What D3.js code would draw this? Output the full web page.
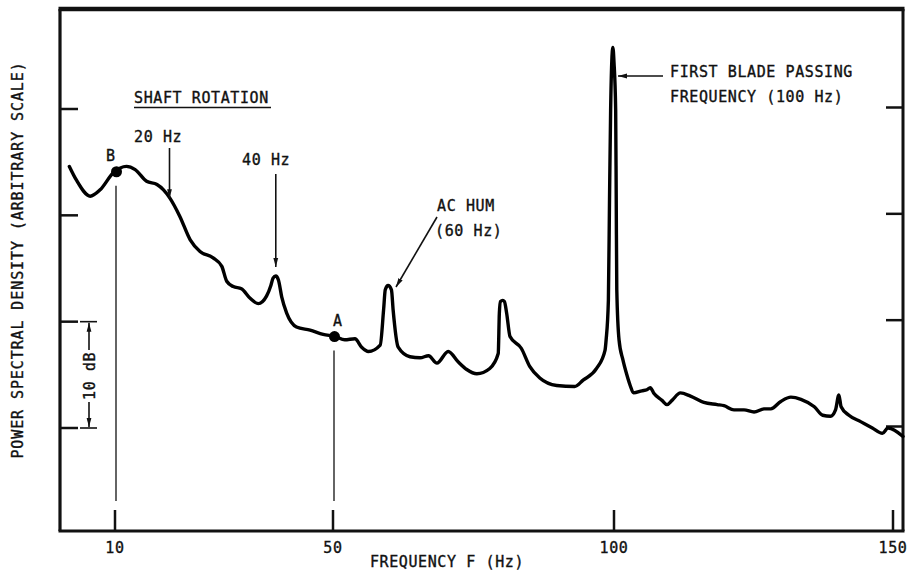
<!DOCTYPE html>
<html><head><meta charset="utf-8">
<script src="https://cdn.jsdelivr.net/npm/d3@7"></script>
<style>
html,body{margin:0;padding:0;background:#fff;}
svg{display:block;}
text{font-family:"DejaVu Sans Mono",monospace;font-size:15px;fill:#111;stroke:#111;stroke-width:0.35px;letter-spacing:0.6px;}
</style>
</head><body>
<svg id="c" width="910" height="572"></svg>
<script>
// ---- data ----
const freqHz = [1.7,3.0,5.5,7.3,9.7,12.1,13.7,15.8,17.7,18.9,20.1,21.9,23.8,25.6,28.0,29.6,30.5,31.7,33.2,34.8,36.3,37.8,38.6,39.0,39.5,40.0,40.6,41.5,43.3,45.8,48.2,50.4,52.1,53.9,55.1,56.3,58.4,59.0,59.3,59.8,60.4,60.7,61.6,63.7,65.5,67.0,68.5,70.5,72.3,73.8,75.6,77.9,79.4,79.6,79.8,80.2,80.5,80.9,81.5,83.5,85.0,86.8,89.8,93.0,94.5,96.9,98.4,98.6,99.0,99.2,99.4,99.6,99.8,100.0,100.3,100.4,100.5,100.9,101.6,102.3,102.9,103.5,105.0,105.9,106.5,107.1,108.6,109.5,110.4,111.9,113.7,116.1,118.5,119.7,121.5,123.3,125.1,126.9,128.1,129.9,131.7,133.5,135.9,137.4,138.8,139.7,140.3,140.7,142.1,144.2,146.3,148.1,149.1,151.8];
const psdDb = [34.6,33.3,31.8,32.4,34.0,34.6,34.3,33.2,32.9,32.4,31.6,29.9,27.7,26.6,26.0,25.2,23.8,23.3,23.1,22.2,21.7,22.4,23.4,24.1,24.3,23.9,22.3,20.8,19.5,19.2,18.8,18.6,18.3,18.4,17.6,17.2,17.8,21.1,23.0,23.4,23.0,21.1,17.6,16.7,16.6,16.8,16.1,17.2,16.2,15.5,15.1,15.6,17.0,20.8,21.9,22.0,21.9,20.8,18.6,17.5,15.8,14.7,14.0,13.9,14.5,15.6,17.3,18.3,22.0,31.4,39.9,44.4,45.8,44.4,39.9,31.4,23.0,18.3,16.4,15.0,14.0,13.3,13.5,13.6,13.8,13.3,12.6,12.2,12.6,13.3,13.0,12.4,12.2,12.1,11.7,11.7,11.5,11.8,11.8,12.5,12.9,12.7,12.0,11.2,11.1,11.7,13.1,12.0,11.2,10.6,10.0,9.5,10.0,9.2];
const xTicks = [10,50,100,150];
const xTickLabels = ["10","50","100","150"];
const yTicks = [10,20,30,40];
const pointLabels = ["B","A"];
const pointHz = [10,50];
const pointDb = [34.1,18.6];

// ---- layout ----
const frame = {left:60, top:9, right:903, bottom:531};
const svg = d3.select("#c");
const x = d3.scaleLinear().domain([0,10,50,100,150,151.8]).range([60,115,333,614,893,903]);
const y = d3.scaleLinear().domain([10,40]).range([428,109]);

// arrow marker
const defs = svg.append("defs");
defs.append("marker").attr("id","ah").attr("markerUnits","userSpaceOnUse")
  .attr("markerWidth",10).attr("markerHeight",6).attr("refX",9).attr("refY",3)
  .attr("orient","auto")
  .append("path").attr("d","M0,0.6 L9,3 L0,5.4 Z").attr("fill","#111");

const ink = "#111";
// frame
const g = svg.append("g");
g.append("line").attr("x1",frame.left-1.5).attr("x2",frame.right+1.5).attr("y1",frame.top).attr("y2",frame.top).attr("stroke",ink).attr("stroke-width",4.5);
g.append("line").attr("x1",frame.left-1.5).attr("x2",frame.right+1.5).attr("y1",frame.bottom).attr("y2",frame.bottom).attr("stroke",ink).attr("stroke-width",3.2);
g.append("line").attr("x1",frame.left).attr("x2",frame.left).attr("y1",frame.top).attr("y2",frame.bottom).attr("stroke",ink).attr("stroke-width",3.2);
g.append("line").attr("x1",frame.right).attr("x2",frame.right).attr("y1",frame.top).attr("y2",frame.bottom).attr("stroke",ink).attr("stroke-width",3);

// y ticks (inward, both sides, unlabeled)
g.selectAll(".lt").data(yTicks).join("line")
  .attr("x1",frame.left).attr("x2",frame.left+18)
  .attr("y1",d=>y(d)).attr("y2",d=>y(d)).attr("stroke",ink).attr("stroke-width",2.5);
g.selectAll(".rt").data(yTicks).join("line")
  .attr("x1",frame.right-17).attr("x2",frame.right)
  .attr("y1",d=>y(d)-1.5).attr("y2",d=>y(d)-1.5).attr("stroke",ink).attr("stroke-width",2.5);

// x ticks (inward) and labels
g.selectAll(".bt").data(xTicks.filter(d=>x(d)<frame.right-5)).join("line")
  .attr("x1",d=>x(d)).attr("x2",d=>x(d))
  .attr("y1",frame.bottom).attr("y2",frame.bottom-21).attr("stroke",ink).attr("stroke-width",2.5);
g.selectAll(".bl").data(xTicks).join("text")
  .attr("x",d=>x(d)).attr("y",553).attr("text-anchor","middle")
  .text((d,i)=>xTickLabels[i]);

// axis titles
svg.append("text").attr("x",447).attr("y",567).attr("text-anchor","middle").text("FREQUENCY F (Hz)");
svg.append("text").attr("transform","translate(23,260) rotate(-90)").attr("text-anchor","middle")
  .style("letter-spacing","0.9px").text("POWER SPECTRAL DENSITY (ARBITRARY SCALE)");

// drop lines from labelled points
const pts = pointHz.map((f,i)=>({f, db:pointDb[i], label:pointLabels[i]}));
g.selectAll(".dl").data(pts).join("line")
  .attr("x1",d=>x(d.f)+1).attr("x2",d=>x(d.f)+1)
  .attr("y1",d=>y(d.db)+14).attr("y2",frame.bottom-30)
  .attr("stroke",ink).attr("stroke-width",1.3);

// spectrum curve
const line = d3.line().x((d,i)=>x(freqHz[i])).y((d,i)=>y(psdDb[i])).curve(d3.curveMonotoneX);
svg.append("path").attr("d",line(freqHz)).attr("fill","none").attr("stroke","#000")
  .attr("stroke-width",3.4).attr("stroke-linejoin","round").attr("stroke-linecap","round");

// points
svg.selectAll(".pt").data(pts).join("circle")
  .attr("cx",d=>x(d.f)+1.5).attr("cy",d=>y(d.db)).attr("r",5.5).attr("fill","#000");
svg.selectAll(".ptl").data(pts).join("text")
  .attr("x",(d,i)=>x(d.f)+(i===0?-9:0)).attr("y",d=>y(d.db)-11).text(d=>d.label);

// annotations
function arrow(x1,y1,x2,y2){
  svg.append("line").attr("x1",x1).attr("y1",y1).attr("x2",x2).attr("y2",y2)
    .attr("stroke",ink).attr("stroke-width",1.6).attr("marker-end","url(#ah)");
}
svg.append("text").attr("x",134).attr("y",103).text("SHAFT ROTATION");
svg.append("line").attr("x1",134).attr("x2",271).attr("y1",107.5).attr("y2",107.5).attr("stroke",ink).attr("stroke-width",1.6);
svg.append("text").attr("x",134).attr("y",142).text("20 Hz");
arrow(x(20),148,x(20),y(31.6));
svg.append("text").attr("x",242).attr("y",165).text("40 Hz");
arrow(x(39.5),174,x(39.5),267);
svg.append("text").attr("x",437).attr("y",211).text("AC HUM");
svg.append("text").attr("x",435).attr("y",236).text("(60 Hz)");
arrow(437,217,396,287);
svg.append("text").attr("x",670).attr("y",77).text("FIRST BLADE PASSING");
svg.append("text").attr("x",670).attr("y",102).text("FREQUENCY (100 Hz)");
arrow(663,76,618,76);

// 10 dB scale bar
const bx = 89;
svg.append("line").attr("x1",80).attr("x2",97).attr("y1",y(20)).attr("y2",y(20)).attr("stroke",ink).attr("stroke-width",1.6);
svg.append("line").attr("x1",80).attr("x2",97).attr("y1",y(10)).attr("y2",y(10)).attr("stroke",ink).attr("stroke-width",1.6);
arrow(bx,350,bx,y(20)+1);
arrow(bx,402,bx,y(10)-1);
svg.append("text").attr("transform",`translate(95,${(y(10)+y(20))/2+1}) rotate(-90)`).attr("text-anchor","middle").text("10 dB");
</script>
</body></html>
